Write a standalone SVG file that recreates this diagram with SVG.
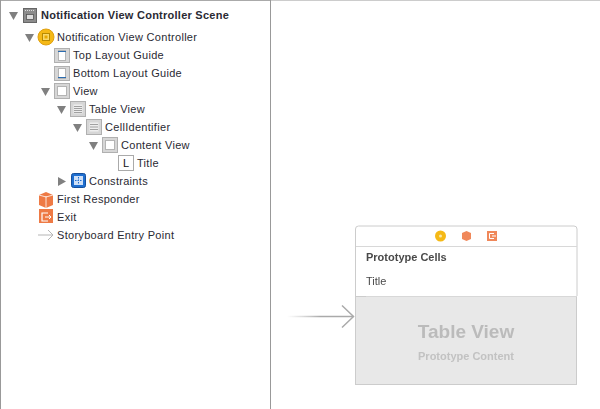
<svg xmlns="http://www.w3.org/2000/svg" width="600" height="409" viewBox="0 0 600 409">
<style>
text{font-family:"Liberation Sans",Arial,sans-serif}
.t{font-size:11px;fill:#2a2a33;letter-spacing:.3px}
.b{font-weight:bold}
.tri{fill:#808080}
.box{fill:#d6d6d6;stroke:#b0b0b0;stroke-width:1}
.in{fill:#fff;stroke:#b4b4b4;stroke-width:1}
.ln{stroke:#a0a0a0;stroke-width:1;fill:none}
</style>
<defs>
<linearGradient id="fade" x1="287" x2="354" y1="0" y2="0" gradientUnits="userSpaceOnUse"><stop offset="0" stop-color="#bbb" stop-opacity="0"/><stop offset=".5" stop-color="#aaa"/><stop offset="1" stop-color="#aaa"/></linearGradient>
<filter id="soft" x="-2%" y="-2%" width="104%" height="104%"><feGaussianBlur stdDeviation="0.35"/></filter>
</defs>
<rect width="600" height="409" fill="#fff"/>
<rect x="0" y="0" width="271" height="1" fill="#aaa"/>
<rect x="271" y="0" width="329" height="1" fill="#ccc"/>
<rect x="0" y="0" width="1" height="409" fill="#999"/>
<rect x="270" y="0" width="1" height="409" fill="#999"/>

<g id="scene"><path class="tri" d="M9 12h9l-4.500 8z"/><rect x="23.500" y="8.500" width="13" height="14" fill="#8c8c8c" stroke="#666"/><path d="M25 10.500h10" stroke="#ddd" stroke-dasharray="1 1"/><rect x="26.500" y="14.500" width="7" height="5" fill="#ddd" stroke="#555" stroke-width=".8"/><text class="t b" x="41" y="19" style="letter-spacing:.25px">Notification View Controller Scene</text></g>
<g id="controller"><path class="tri" d="M25 34h9l-4.500 8z"/><circle cx="46" cy="37" r="8" fill="#f5b916" stroke="#e0a010"/><rect x="42.500" y="33.500" width="7" height="7" fill="#f9d96a" stroke="#b98a00"/><rect x="44.500" y="35.500" width="3" height="3" fill="#e8a800"/><text class="t" x="57" y="41">Notification View Controller</text></g>
<g id="top-guide"><rect class="box" x="54.500" y="48.500" width="15" height="14"/><rect class="in" x="58.500" y="50.500" width="7" height="10"/><path d="M58 51.500h8" stroke="#2b6cb0"/><text class="t" x="73" y="59">Top Layout Guide</text></g>
<g id="bottom-guide"><rect class="box" x="54.500" y="66.500" width="15" height="14"/><rect class="in" x="58.500" y="68.500" width="7" height="10"/><path d="M58 77.500h8" stroke="#2b6cb0"/><text class="t" x="73" y="77">Bottom Layout Guide</text></g>
<g id="view"><path class="tri" d="M41 88h9l-4.500 8z"/><rect class="box" x="54.500" y="83.500" width="15" height="15"/><rect class="in" x="57.500" y="86.500" width="9" height="9"/><text class="t" x="73" y="95">View</text></g>
<g id="table-view"><path class="tri" d="M57 106h9l-4.500 8z"/><rect class="box" x="70.500" y="101.500" width="15" height="15"/><rect x="73.500" y="104.500" width="9" height="9" fill="#eee"/><path class="ln" d="M74 106.500h8M74 108.500h8M74 110.500h8M74 112.500h8"/><text class="t" x="89" y="113">Table View</text></g>
<g id="cell"><path class="tri" d="M73 124h9l-4.500 8z"/><rect class="box" x="86.500" y="119.500" width="15" height="15"/><rect x="89.500" y="122.500" width="9" height="9" fill="#eee"/><path class="ln" d="M90 124.500h8M90 127h8M90 129.500h8"/><text class="t" x="105" y="131">CellIdentifier</text></g>
<g id="content-view"><path class="tri" d="M89 142h9l-4.500 8z"/><rect class="box" x="102.500" y="137.500" width="15" height="15"/><rect class="in" x="105.500" y="140.500" width="9" height="9"/><text class="t" x="121" y="149">Content View</text></g>
<g id="title"><rect x="118.500" y="155.500" width="15" height="15" fill="#fff" stroke="#aaa"/><text x="123" y="167" font-size="11" fill="#111">L</text><text class="t" x="137" y="167">Title</text></g>
<g id="constraints"><path class="tri" d="M58 177l8 4.500-8 4.500z"/><rect x="71.500" y="173.500" width="14" height="14" rx="2" fill="#1f6fd0" stroke="#154f9c"/><rect x="74" y="176" width="9" height="9" fill="#cfe0f7"/><path d="M78.500 177v7M75 180.500h7" stroke="#1f6fd0" stroke-dasharray="1.500 1"/><text class="t" x="89" y="185">Constraints</text></g>
<g id="first-responder"><path d="M39 195l7-3 7 3v10l-7 3-7-3z" fill="#ee7a45"/><path d="M46 196v12M39 195l7 2 7-2" stroke="#fff" stroke-width=".8" fill="none"/><text class="t" x="57" y="203">First Responder</text></g>
<g id="exit"><rect x="39" y="209" width="14" height="14" fill="#ee7a45"/><path d="M48 213h-6v8h6" fill="none" stroke="#fff" stroke-width="1.200"/><path d="M45 217h6M49 215l2 2-2 2" fill="none" stroke="#fff"/><text class="t" x="57" y="221">Exit</text></g>
<g id="entry"><path d="M38 235h15M48 230l5 5-5 5" fill="none" stroke="#b5b5b5"/><text class="t" x="57" y="239">Storyboard Entry Point</text></g>

<g id="connectors"><path d="M287 316.500h66" stroke="url(#fade)" stroke-width="1.500" fill="none"/><path d="M342 305.500l11.500 11-11.500 11" stroke="#aaa" stroke-width="1.500" fill="none"/></g>

<g id="scene-card" filter="url(#soft)">
<path d="M355.500 296V229a3 3 0 0 1 3-3H574a3 3 0 0 1 3 3V296" fill="#fff" stroke="#ccc"/>
<rect x="355.500" y="296.500" width="221" height="88" fill="#e8e8e8" stroke="#ccc"/>
<path d="M356 246.500h221M366 296.500h211" stroke="#d8d8d8" fill="none"/>
<circle cx="440.500" cy="236" r="5.500" fill="#f5b916"/><circle cx="440.500" cy="236" r="1.500" fill="#fbe9a8"/>
<path d="M462 233l4.500-2 4.500 2v6l-4.500 2-4.500-2z" fill="#f0885a"/>
<rect x="487" y="231" width="10" height="10" fill="#f0885a"/><path d="M494 233.500h-4.500v5h4.500M492 236h4" fill="none" stroke="#fff"/>
<text x="366" y="261" font-size="11" font-weight="bold" fill="#4a4a4a">Prototype Cells</text>
<text x="366" y="285" font-size="11" fill="#4a4a4a">Title</text>
<text x="466" y="338" font-size="19" font-weight="bold" fill="#bbb" text-anchor="middle">Table View</text>
<text x="466" y="360" font-size="11" font-weight="bold" fill="#c2c2c2" text-anchor="middle">Prototype Content</text>
</g>
</svg>
